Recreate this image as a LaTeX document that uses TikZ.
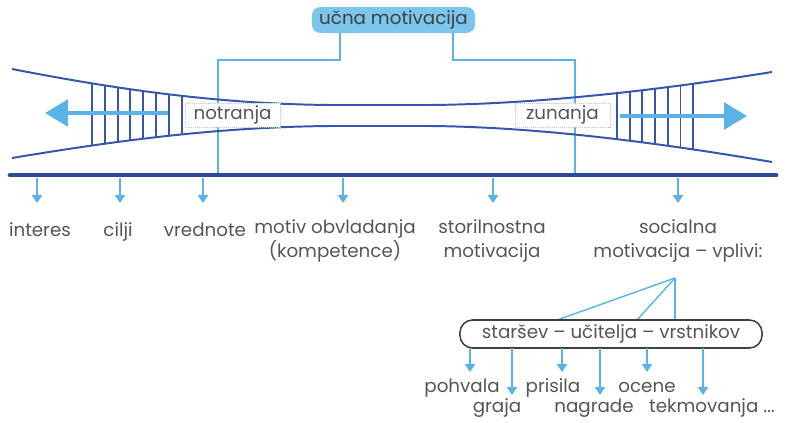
\documentclass[tikz,border=0pt]{standalone}
\usepackage{fontspec}
\setmainfont{Poppins}
\usetikzlibrary{arrows.meta,positioning}
\definecolor{temna}{HTML}{3556B0}
\definecolor{svetla}{HTML}{5AB3E6}
\definecolor{polnilo}{HTML}{7CC6EC}
\definecolor{besedilo}{HTML}{555555}

\begin{document}
\begin{tikzpicture}[
  x=0.025cm,y=-0.025cm,
  >={Triangle[length=2mm,width=2.6mm]},
  oznaka/.style={font=\fontsize{13}{17}\selectfont,text=besedilo,align=center,inner sep=0pt},
  vrsta/.style={oznaka,anchor=north,execute at begin node=\strut},
  lijak/.style={draw=temna,line width=1.4pt},
  veza/.style={draw=svetla,line width=0.8pt},
  dol/.style={draw=svetla,line width=1pt,->},
  smer/.style={draw=svetla,line width=2.8pt,-{Triangle[length=5.7mm,width=6.6mm]}},
  okvir/.style={draw=gray!45,densely dotted,fill=white,minimum width=2.375cm,minimum height=0.6cm}
]
  \useasboundingbox (0,0) rectangle (790,422);

  % ucna motivacija
  \node[oznaka,fill=polnilo,rounded corners=6pt,minimum width=4.08cm,minimum height=0.65cm,text=black!75] (ucna) at (393.5,20) {učna motivacija};
  \coordinate (mL) at (340,33);  \coordinate (mD) at (453,33);
  \coordinate (kL) at (218,60);  \coordinate (kD) at (575,60);
  \coordinate (vL) at (218,175); \coordinate (vD) at (575,175);
  \draw[veza] (mL) |- (kL) -- (vL);
  \draw[veza] (mD) |- (kD) -- (vD);

  % lijak
  \draw[lijak] (12,69) .. controls (120,90) and (220,104) .. (330,105) -- (430,105)
               .. controls (540,104) and (660,90) .. (772,72);
  \draw[lijak] (12,158) .. controls (120,140) and (220,127) .. (330,126) -- (430,126)
               .. controls (540,127) and (660,143) .. (772,162);
  \begin{scope}
    \clip (12,69) .. controls (120,90) and (220,104) .. (330,105) -- (430,105)
          .. controls (540,104) and (660,90) .. (772,72) -- (772,162)
          .. controls (660,143) and (540,127) .. (430,126) -- (330,126)
          .. controls (220,127) and (120,140) .. (12,158) -- cycle;
    \foreach \x in {92,104.8,...,182} \draw[lijak] (\x,50) -- (\x,180);
    \foreach \x in {617,629.7,...,694} \draw[lijak] (\x,50) -- (\x,180);
  \end{scope}

  % notranja / zunanja
  \node[okvir,oznaka] (notr) at (232.5,115) {notranja};
  \node[okvir,oznaka] (zun) at (562.5,115) {zunanja};
  \coordinate (nz) at (168,113); \coordinate (nk) at (45,113);
  \coordinate (zz) at (620,116); \coordinate (zk) at (747,116);
  \draw[smer] (nz) -- (nk);
  \draw[smer] (zz) -- (zk);

  % os
  \coordinate (osL) at (10,175); \coordinate (osD) at (776,175);
  \draw[draw=temna!85!black,line width=3.5pt,line cap=round] (osL) -- (osD);
  \foreach \x [count=\i] in {37,120,203,343,493,678} {
    \coordinate (z\i) at (\x,178);
    \coordinate (k\i) at (\x,203);
    \draw[dol] (z\i) -- (k\i);
  }

  \node[vrsta] (interes) at (40,219) {interes};
  \node[vrsta] (cilji) at (118,219) {cilji};
  \node[vrsta] (vrednote) at (205,219) {vrednote};
  \node[vrsta] (obvl) at (335,219) {motiv obvladanja\\(kompetence)};
  \node[vrsta] (storil) at (492,219) {storilnostna\\motivacija};
  \node[vrsta] (soc) at (678,219) {socialna\\motivacija -- vplivi:};

  % vplivi
  \coordinate (v) at (675,278);
  \coordinate (p1) at (557,320); \coordinate (p2) at (637,320); \coordinate (p3) at (675,320);
  \draw[veza,line width=1pt] (v) -- (p1);
  \draw[veza,line width=1pt] (v) -- (p2);
  \draw[veza] (v) -- (p3);
  \node[oznaka,draw=black!75,line width=1.1pt,rounded corners=9pt,fill=white,
        minimum width=7.55cm,minimum height=0.7cm] (vzor) at (611,334) {staršev -- učitelja -- vrstnikov};

  \foreach \x/\y [count=\i] in {470/372,512/395,562/372,600/395,647/372,703/395} {
    \coordinate (g\i) at (\x,348);
    \coordinate (h\i) at (\x,\y);
    \draw[dol] (g\i) -- (h\i);
  }
  \node[oznaka,anchor=base] (pohvala) at (462,392) {pohvala};
  \node[oznaka,anchor=base] (graja) at (497,412) {graja};
  \node[oznaka,anchor=base] (prisila) at (553,392) {prisila};
  \node[oznaka,anchor=base] (nagrade) at (594,412) {nagrade};
  \node[oznaka,anchor=base] (ocene) at (647,392) {ocene};
  \node[oznaka,anchor=base] (tekm) at (712,412) {tekmovanja ...};
\end{tikzpicture}
\end{document}
